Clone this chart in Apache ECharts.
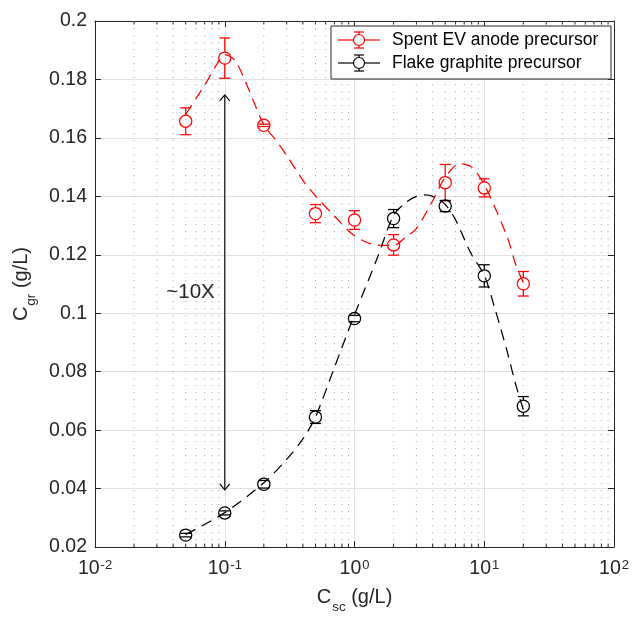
<!DOCTYPE html>
<html><head><meta charset="utf-8">
<script src="https://cdn.jsdelivr.net/npm/echarts@6/dist/echarts.min.js"></script>
<style>html,body{margin:0;padding:0;background:#fff}#c{width:632px;height:619px}</style>
</head><body><div id="c"></div>
<script>
// ---- data ----
const xConc = [0.05, 0.1, 0.2, 0.5, 1, 2, 5, 10, 20];
const spentMean = [0.1657, 0.1873, 0.1643, 0.1341, 0.1319, 0.1234, 0.1447, 0.1429, 0.1101];
const spentErr  = [0.0046, 0.0069, 0.0004, 0.0031, 0.0032, 0.0035, 0.0062, 0.0031, 0.0042];
const flakeMean = [0.0241, 0.0317, 0.0415, 0.0645, 0.0982, 0.1324, 0.1367, 0.1128, 0.0682];
const flakeErr  = [0.0006, 0.0007, 0.0013, 0.0022, 0.0011, 0.0031, 0.0019, 0.0038, 0.0033];

const spentFitX = [0.05, 0.06, 0.07, 0.085, 0.1, 0.12, 0.15, 0.2, 0.25, 0.3, 0.4, 0.5, 0.7, 1, 1.5, 2, 2.5, 3, 4, 5, 6.5, 8, 10, 15, 17.5, 20];
const spentFitY = [0.168, 0.1735, 0.178, 0.1845, 0.1885, 0.1865, 0.1775, 0.1645, 0.1590, 0.1540, 0.1455, 0.1402, 0.1333, 0.1265, 0.1233, 0.1232, 0.1262, 0.1290, 0.1385, 0.1465, 0.1512, 0.1500, 0.1440, 0.1262, 0.1165, 0.1105];
const flakeFitX = [0.05, 0.1, 0.2, 0.3, 0.4, 0.5, 0.7, 1, 1.5, 2, 2.5, 3, 3.5, 4, 5, 6, 7, 8, 10, 12, 15, 17.5, 20];
const flakeFitY = [0.0243, 0.0318, 0.0420, 0.0500, 0.0570, 0.0645, 0.0815, 0.0995, 0.1190, 0.1335, 0.1380, 0.1400, 0.1405, 0.1400, 0.1372, 0.1320, 0.1255, 0.1200, 0.1130, 0.1020, 0.0870, 0.0755, 0.0670];

const seriesNames = ['Spent EV anode precursor', 'Flake graphite precursor'];
const xTickExponents = ['-2', '-1', '0', '1', '2'];
const yTickLabels = ['0.02', '0.04', '0.06', '0.08', '0.1', '0.12', '0.14', '0.16', '0.18', '0.2'];
const arrowX = 0.1, arrowTop = 0.1747, arrowBottom = 0.0396;
const annotText = '~10X', annotY = 0.1075;

// minor log ticks 2..9 within each decade
const decades = [0.01, 0.1, 1, 10];
const minorMult = [2, 3, 4, 5, 6, 7, 8, 9];
const minorTicks = [];
decades.forEach(d => minorMult.forEach(m => minorTicks.push(+(d * m).toPrecision(3))));

const FONT = '"Liberation Sans", Arial, Helvetica, sans-serif';
const AX = '#262626';

function errRender(color) {
  return function (params, api) {
    const x = api.value(0), m = api.value(1), lo = api.value(2), hi = api.value(3);
    const c = api.coord([x, m]), pl = api.coord([x, lo]), ph = api.coord([x, hi]);
    const r = 6.1, cw = 5.5;
    const st = { stroke: color, lineWidth: 1.25, fill: 'none' };
    const ch = [];
    if (ph[1] < c[1] - r) ch.push({ type: 'line', shape: { x1: c[0], y1: ph[1], x2: c[0], y2: c[1] - r }, style: st });
    if (pl[1] > c[1] + r) ch.push({ type: 'line', shape: { x1: c[0], y1: c[1] + r, x2: c[0], y2: pl[1] }, style: st });
    ch.push({ type: 'line', shape: { x1: c[0] - cw, y1: ph[1], x2: c[0] + cw, y2: ph[1] }, style: st });
    ch.push({ type: 'line', shape: { x1: c[0] - cw, y1: pl[1], x2: c[0] + cw, y2: pl[1] }, style: st });
    ch.push({ type: 'circle', shape: { cx: c[0], cy: c[1], r: r }, style: st });
    return { type: 'group', children: ch };
  };
}

const chart = echarts.init(document.getElementById('c'), null, { renderer: 'canvas' });

const baseX = {
  type: 'log', logBase: 10, min: 0.01, max: 100,
  axisLine: { show: true, onZero: false, lineStyle: { color: AX, width: 1 } },
  axisTick: { show: true, inside: true, length: 6, lineStyle: { color: AX, width: 1 } },
  minorTick: { show: false }, minorSplitLine: { show: false }
};
const baseY = {
  type: 'value', min: 0.02, max: 0.2, interval: 0.02,
  axisLine: { show: true, onZero: false, lineStyle: { color: AX, width: 1 } },
  axisTick: { show: true, inside: true, length: 6, lineStyle: { color: AX, width: 1 } }
};

const option = {
  animation: false,
  backgroundColor: '#fff',
  grid: { left: 95, right: 16, top: 21, bottom: 68, containLabel: false },
  xAxis: [
    Object.assign({}, baseX, {
      position: 'bottom',
      splitLine: { show: true, lineStyle: { color: '#e1e1e1', width: 1 } },
      axisLabel: {
        show: true, margin: 12, showMinLabel: true, showMaxLabel: true,
        formatter: function (v) {
          const e = Math.round(Math.log10(v));
          const lab = xTickExponents.find(s => +s === e);
          return '{b|10}{s|' + lab + '}';
        },
        rich: {
          b: { fontSize: 19.5, lineHeight: 20, fontFamily: FONT, color: AX, verticalAlign: 'bottom' },
          s: { fontSize: 13, lineHeight: 14, fontFamily: FONT, color: AX, verticalAlign: 'top', padding: [0, 0, 10, 1] }
        }
      },
      name: '{b|C}{s|sc}{b| (g/L)}', nameLocation: 'middle', nameGap: 38,
      nameTextStyle: {
        rich: {
          b: { fontSize: 20, lineHeight: 22, fontFamily: FONT, color: AX, verticalAlign: 'top' },
          s: { fontSize: 13.5, lineHeight: 14, fontFamily: FONT, color: AX, verticalAlign: 'top', padding: [13, 0, 0, 1] }
        }
      }
    }),
    Object.assign({}, baseX, {
      position: 'top', axisLabel: { show: false }, splitLine: { show: false }
    })
  ],
  yAxis: [
    Object.assign({}, baseY, {
      position: 'left',
      splitLine: { show: true, lineStyle: { color: '#e1e1e1', width: 1 } },
      axisLabel: {
        show: true, margin: 8, fontSize: 19.5, fontFamily: FONT, color: AX,
        showMinLabel: true, showMaxLabel: true,
        formatter: function (v) {
          const idx = Math.round((v - 0.02) / 0.02);
          return yTickLabels[idx] !== undefined ? yTickLabels[idx] : '';
        }
      },
      name: '{b|C}{s|gr}{b| (g/L)}', nameLocation: 'middle', nameGap: 57, nameRotate: 90,
      nameTextStyle: {
        rich: {
          b: { fontSize: 20, lineHeight: 22, fontFamily: FONT, color: AX, verticalAlign: 'top' },
          s: { fontSize: 13.5, lineHeight: 14, fontFamily: FONT, color: AX, verticalAlign: 'top', padding: [13, 0, 0, 1] }
        }
      }
    }),
    Object.assign({}, baseY, {
      position: 'right', axisLabel: { show: false }, splitLine: { show: false }
    })
  ],
  series: [
    {
      type: 'custom', name: 'minorGrid', silent: true, z: 1,
      xAxisIndex: 0, yAxisIndex: 0,
      data: minorTicks.map(v => [v, 0.1]),
      encode: { x: 0, y: 1 },
      renderItem: function (params, api) {
        const cs = params.coordSys;
        const x = api.coord([api.value(0), 0.1])[0];
        const top = cs.y, bot = cs.y + cs.height;
        return {
          type: 'group', children: [
            { type: 'line', shape: { x1: x, y1: top, x2: x, y2: bot }, style: { stroke: '#b0b0b0', lineWidth: 1, lineDash: [1.2, 5.8] } },
            { type: 'line', shape: { x1: x, y1: bot - 3.5, x2: x, y2: bot }, style: { stroke: AX, lineWidth: 1 } },
            { type: 'line', shape: { x1: x, y1: top, x2: x, y2: top + 3.5 }, style: { stroke: AX, lineWidth: 1 } }
          ]
        };
      }
    },
    {
      type: 'line', name: seriesNames[0] + ' fit', z: 3,
      data: spentFitX.map((x, i) => [x, spentFitY[i]]),
      showSymbol: false, smooth: 0.3, silent: true,
      lineStyle: { color: '#ff0000', width: 1.25, type: [11, 7] }
    },
    {
      type: 'line', name: seriesNames[1] + ' fit', z: 3,
      data: flakeFitX.map((x, i) => [x, flakeFitY[i]]),
      showSymbol: false, smooth: 0.3, silent: true,
      lineStyle: { color: '#000000', width: 1.25, type: [11, 7] }
    },
    {
      type: 'custom', name: seriesNames[0], z: 4,
      data: xConc.map((x, i) => [x, spentMean[i], spentMean[i] - spentErr[i], spentMean[i] + spentErr[i]]),
      encode: { x: 0, y: 1 },
      renderItem: errRender('#ff0000')
    },
    {
      type: 'custom', name: seriesNames[1], z: 4,
      data: xConc.map((x, i) => [x, flakeMean[i], flakeMean[i] - flakeErr[i], flakeMean[i] + flakeErr[i]]),
      encode: { x: 0, y: 1 },
      renderItem: errRender('#000000')
    },
    {
      type: 'custom', name: 'arrow', z: 5, silent: true,
      data: [[arrowX, arrowTop, arrowBottom]],
      encode: { x: 0, y: 1 },
      renderItem: function (params, api) {
        const t = api.coord([api.value(0), api.value(1)]);
        const b = api.coord([api.value(0), api.value(2)]);
        const ty = api.coord([api.value(0), annotY])[1];
        const st = { stroke: '#000', lineWidth: 1.1, fill: 'none' };
        return {
          type: 'group', children: [
            { type: 'line', shape: { x1: t[0], y1: t[1], x2: b[0], y2: b[1] }, style: st },
            { type: 'polyline', shape: { points: [[t[0] - 5, t[1] + 6], [t[0], t[1]], [t[0] + 5, t[1] + 6]] }, style: st },
            { type: 'polyline', shape: { points: [[b[0] - 5, b[1] - 6], [b[0], b[1]], [b[0] + 5, b[1] - 6]] }, style: st },
            { type: 'text', x: t[0] - 10, y: ty + 1, style: { text: annotText, fill: AX, fontSize: 20.5, fontFamily: FONT, align: 'right', verticalAlign: 'middle', textAlign: 'right', textVerticalAlign: 'middle' } }
          ]
        };
      }
    }
  ],
  graphic: [
    { type: 'rect', shape: { x: 331, y: 26, width: 280, height: 53 }, style: { fill: '#fff', stroke: AX, lineWidth: 1 }, z: 10 },
    // row 1
    { type: 'line', shape: { x1: 338, y1: 40, x2: 353, y2: 40 }, style: { stroke: '#ff0000', lineWidth: 1.2 }, z: 11 },
    { type: 'line', shape: { x1: 365, y1: 40, x2: 380, y2: 40 }, style: { stroke: '#ff0000', lineWidth: 1.2 }, z: 11 },
    { type: 'circle', shape: { cx: 359, cy: 40, r: 5.5 }, style: { stroke: '#ff0000', lineWidth: 1.2, fill: 'none' }, z: 11 },
    { type: 'line', shape: { x1: 359, y1: 32, x2: 359, y2: 34.5 }, style: { stroke: '#ff0000', lineWidth: 1.2 }, z: 11 },
    { type: 'line', shape: { x1: 359, y1: 45.5, x2: 359, y2: 48 }, style: { stroke: '#ff0000', lineWidth: 1.2 }, z: 11 },
    { type: 'line', shape: { x1: 354, y1: 32, x2: 364, y2: 32 }, style: { stroke: '#ff0000', lineWidth: 1.2 }, z: 11 },
    { type: 'line', shape: { x1: 354, y1: 48, x2: 364, y2: 48 }, style: { stroke: '#ff0000', lineWidth: 1.2 }, z: 11 },
    { type: 'text', x: 392, y: 40, style: { text: seriesNames[0], fill: '#000', fontSize: 17.5, fontFamily: FONT, verticalAlign: 'middle', textVerticalAlign: 'middle' }, z: 11 },
    // row 2
    { type: 'line', shape: { x1: 338, y1: 63, x2: 353, y2: 63 }, style: { stroke: '#000', lineWidth: 1.2 }, z: 11 },
    { type: 'line', shape: { x1: 365, y1: 63, x2: 380, y2: 63 }, style: { stroke: '#000', lineWidth: 1.2 }, z: 11 },
    { type: 'circle', shape: { cx: 359, cy: 63, r: 5.5 }, style: { stroke: '#000', lineWidth: 1.2, fill: 'none' }, z: 11 },
    { type: 'line', shape: { x1: 359, y1: 55, x2: 359, y2: 57.5 }, style: { stroke: '#000', lineWidth: 1.2 }, z: 11 },
    { type: 'line', shape: { x1: 359, y1: 68.5, x2: 359, y2: 71 }, style: { stroke: '#000', lineWidth: 1.2 }, z: 11 },
    { type: 'line', shape: { x1: 354, y1: 55, x2: 364, y2: 55 }, style: { stroke: '#000', lineWidth: 1.2 }, z: 11 },
    { type: 'line', shape: { x1: 354, y1: 71, x2: 364, y2: 71 }, style: { stroke: '#000', lineWidth: 1.2 }, z: 11 },
    { type: 'text', x: 392, y: 63, style: { text: seriesNames[1], fill: '#000', fontSize: 17.5, fontFamily: FONT, verticalAlign: 'middle', textVerticalAlign: 'middle' }, z: 11 }
  ]
};
chart.setOption(option);
</script>
</body></html>
